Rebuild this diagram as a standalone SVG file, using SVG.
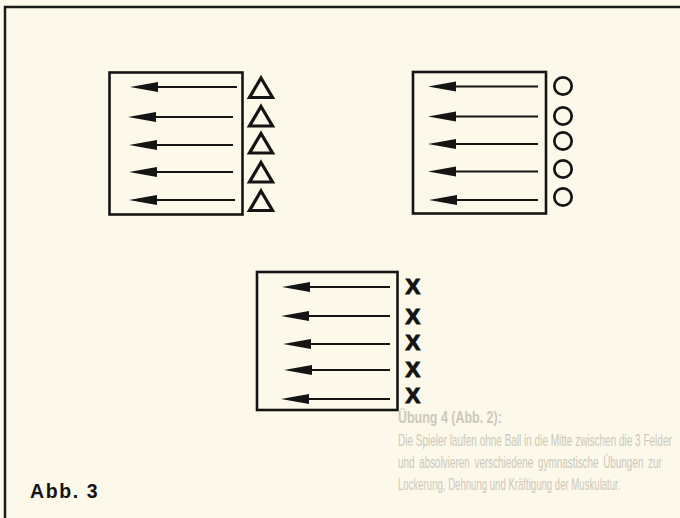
<svg xmlns="http://www.w3.org/2000/svg" width="680" height="518" viewBox="0 0 680 518">
<style>
.frame{stroke:#1a1a1a;stroke-width:2.5;fill:none}
.box{stroke:#141414;stroke-width:2.6;fill:none}
.arr{stroke:#141414;stroke-width:2.1;fill:none}
.tri{stroke:#141414;stroke-width:3.2;fill:none;stroke-linejoin:miter}
.circ{stroke:#141414;stroke-width:2.7;fill:none}
.x{font-family:"Liberation Sans",Arial,sans-serif;font-weight:bold;font-size:22px;fill:#141414;stroke:#141414;stroke-width:1.1}
.lbl{font-family:"Liberation Sans",Arial,sans-serif;font-weight:bold;font-size:19.5px;fill:#141414;letter-spacing:1.6px}
.ghost{font-family:"Liberation Sans",Arial,sans-serif;font-size:16px;fill:#cdc8ba}
.ghostb{font-family:"Liberation Sans",Arial,sans-serif;font-size:16px;font-weight:bold;fill:#cdc8ba}
</style>
<defs>
<marker id="head" markerUnits="userSpaceOnUse" markerWidth="28" markerHeight="11" viewBox="0 0 28 11" refX="1" refY="5.5" orient="auto" overflow="visible">
<path d="M0,0.5 L28,5.5 L0,10.5 Z" fill="#141414"/>
</marker>
</defs>
<rect width="680" height="518" fill="#fcf8ea"/>
<g id="ghost-text">
<text class="ghostb" transform="translate(398,423) scale(0.78,1)">Übung 4 (Abb. 2):</text>
<text class="ghost" transform="translate(398,446) scale(0.625,1)">Die Spieler laufen ohne Ball in die Mitte zwischen die 3 Felder</text>
<text class="ghost" transform="translate(398,468) scale(0.62,1)" word-spacing="3">und absolvieren verschiedene gymnastische Übungen zur</text>
<text class="ghost" transform="translate(398,490) scale(0.6,1)">Lockerung, Dehnung und Kräftigung der Muskulatur.</text>
</g>
<g id="frame">
<line class="frame" x1="4" y1="7" x2="680" y2="7"/>
<line class="frame" x1="5" y1="6" x2="5" y2="518"/>
</g>
<g id="field-triangles">
<rect class="box" x="109.5" y="72.5" width="133" height="142"/>
<path class="tri" d="M261,78 L272.5,97.5 L249.5,97.5 Z"/>
<path class="tri" d="M261,106.5 L272.5,126 L249.5,126 Z"/>
<path class="tri" d="M261,133.5 L272.5,153 L249.5,153 Z"/>
<path class="tri" d="M261,162.5 L272.5,182 L249.5,182 Z"/>
<path class="tri" d="M261,191 L272.5,210.5 L249.5,210.5 Z"/>
</g>
<g id="field-circles">
<rect class="box" x="413" y="72" width="133" height="141.5"/>
<circle class="circ" cx="563" cy="86" r="8.7"/>
<circle class="circ" cx="563" cy="116" r="8.7"/>
<circle class="circ" cx="563" cy="141" r="8.7"/>
<circle class="circ" cx="563" cy="169" r="8.7"/>
<circle class="circ" cx="563" cy="197" r="8.7"/>
</g>
<g id="field-crosses">
<rect class="box" x="257" y="272" width="140.5" height="138"/>
<text class="x" x="405.5" y="294">X</text>
<text class="x" x="405.5" y="324">X</text>
<text class="x" x="405.5" y="349.5">X</text>
<text class="x" x="405.5" y="376.5">X</text>
<text class="x" x="405.5" y="403">X</text>
</g>
<g id="connectors">
<line class="arr" x1="237" y1="87" x2="157" y2="87" marker-end="url(#head)"/>
<line class="arr" x1="233" y1="117" x2="155" y2="117" marker-end="url(#head)"/>
<line class="arr" x1="233" y1="145" x2="156" y2="145" marker-end="url(#head)"/>
<line class="arr" x1="233" y1="172" x2="156" y2="172" marker-end="url(#head)"/>
<line class="arr" x1="235" y1="200" x2="156" y2="200" marker-end="url(#head)"/>
<line class="arr" x1="538" y1="86.5" x2="455" y2="86.5" marker-end="url(#head)"/>
<line class="arr" x1="538" y1="116.5" x2="455" y2="116.5" marker-end="url(#head)"/>
<line class="arr" x1="538" y1="144" x2="455" y2="144" marker-end="url(#head)"/>
<line class="arr" x1="538" y1="171.5" x2="455" y2="171.5" marker-end="url(#head)"/>
<line class="arr" x1="538" y1="200" x2="456" y2="200" marker-end="url(#head)"/>
<line class="arr" x1="390" y1="287" x2="309" y2="287" marker-end="url(#head)"/>
<line class="arr" x1="390" y1="316" x2="308" y2="316" marker-end="url(#head)"/>
<line class="arr" x1="390" y1="344" x2="310" y2="344" marker-end="url(#head)"/>
<line class="arr" x1="390" y1="370" x2="311" y2="370" marker-end="url(#head)"/>
<line class="arr" x1="390" y1="399" x2="308" y2="399" marker-end="url(#head)"/>
</g>
<g id="caption">
<text class="lbl" x="30" y="498">Abb. 3</text>
</g>
</svg>
